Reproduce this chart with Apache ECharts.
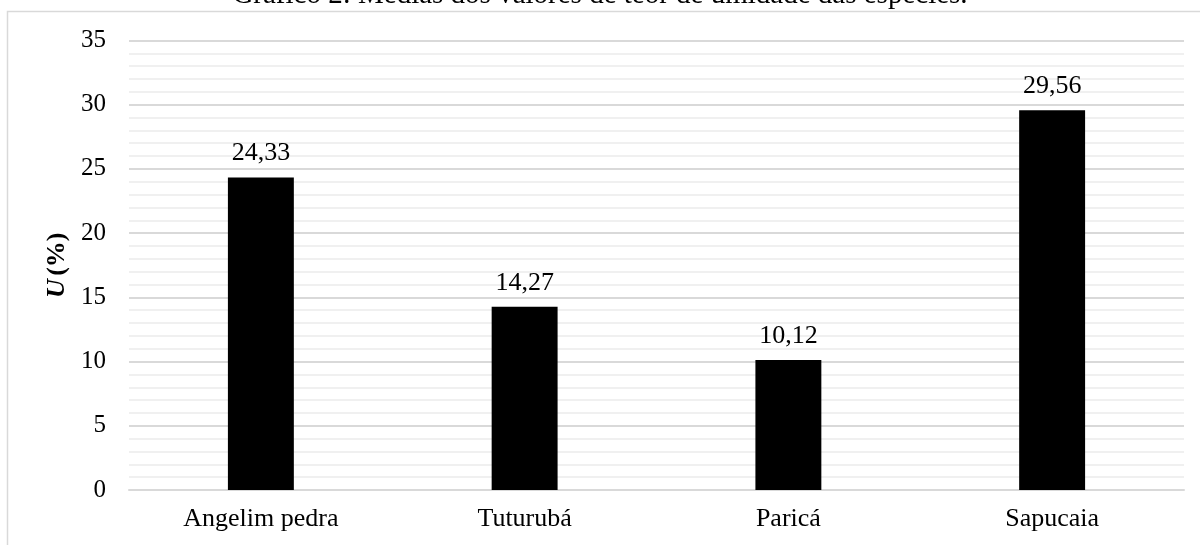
<!DOCTYPE html>
<html>
<head>
<meta charset="utf-8">
<script src="https://cdn.jsdelivr.net/npm/echarts@6/dist/echarts.min.js"></script>
<style>
  html, body { margin: 0; padding: 0; background: #fff; }
  #chart { width: 1200px; height: 545px; }
</style>
</head>
<body>
<div id="chart"></div>
<script>
// Moisture content (U, %) averaged per wood species
const categories = ['Angelim pedra', 'Tuturubá', 'Paricá', 'Sapucaia'];
const moisture = [24.33, 14.27, 10.12, 29.56];
const yTicks = { min: 0, max: 35, interval: 5 };
const titleText = 'Gráfico 2: Médias dos valores de teor de umidade das espécies.';

const serif = '"Liberation Serif", "Times New Roman", serif';

const chart = echarts.init(document.getElementById('chart'), null, { renderer: 'canvas' });

chart.setOption({
  animation: false,
  backgroundColor: '#ffffff',
  graphic: [
    {
      type: 'rect',
      shape: { x: 7.5, y: 11.5, width: 1400, height: 1000 },
      style: { fill: 'none', stroke: '#d9d9d9', lineWidth: 1.5 },
      silent: true
    },
    {
      type: 'text',
      x: 600,
      y: 10,
      style: {
        text: titleText,
        font: '29px ' + serif,
        fill: '#000',
        align: 'center',
        verticalAlign: 'bottom'
      },
      silent: true
    }
  ],
  grid: { left: 129, right: 16, top: 40.5, bottom: 55, containLabel: false },
  xAxis: {
    type: 'category',
    data: categories,
    axisLine: { show: true, lineStyle: { color: '#d9d9d9', width: 2 } },
    axisTick: { show: false },
    axisLabel: { color: '#000', fontFamily: serif, fontSize: 26, margin: 16 }
  },
  yAxis: {
    type: 'value',
    min: yTicks.min,
    max: yTicks.max,
    interval: yTicks.interval,
    name: '{i|U} {b|(%)}',
    nameLocation: 'middle',
    nameRotate: 90,
    nameGap: 57,
    nameTextStyle: {
      rich: {
        i: { fontFamily: serif, fontSize: 26, fontWeight: 'bold', fontStyle: 'italic', color: '#000' },
        b: { fontFamily: serif, fontSize: 26, fontWeight: 'bold', color: '#000' }
      }
    },
    axisLine: { show: false },
    axisTick: { show: false },
    axisLabel: { color: '#000', fontFamily: serif, fontSize: 25, margin: 23 },
    splitLine: { show: true, lineStyle: { color: '#d9d9d9', width: 2 } },
    minorTick: { show: false, splitNumber: 5 },
    minorSplitLine: { show: true, lineStyle: { color: '#f0f0f0', width: 2 } }
  },
  series: [
    {
      type: 'bar',
      data: moisture,
      barWidth: '25%',
      itemStyle: { color: '#000000' },
      label: {
        show: true,
        position: 'top',
        distance: 11,
        color: '#000',
        fontFamily: serif,
        fontSize: 26,
        formatter: p => p.value.toFixed(2).replace('.', ',')
      }
    }
  ]
});
</script>
</body>
</html>
